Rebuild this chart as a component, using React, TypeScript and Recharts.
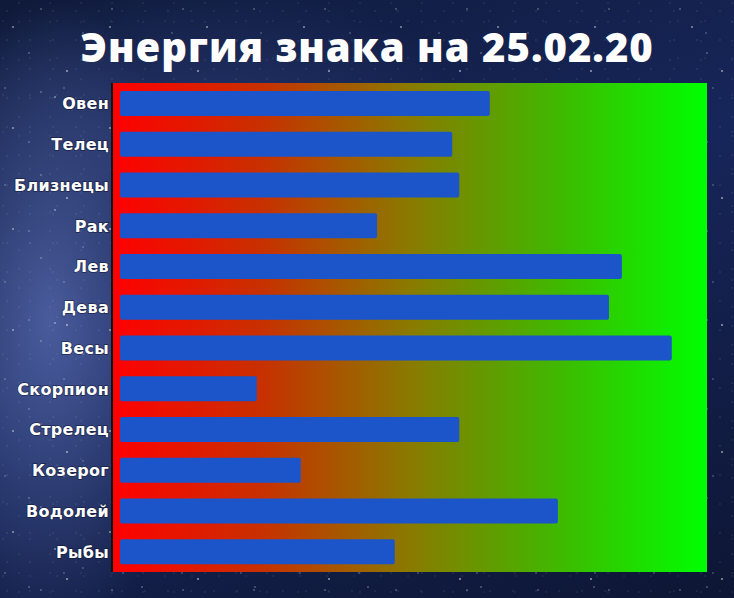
import React from 'react';
import { BarChart, Bar, XAxis, YAxis, CartesianGrid } from 'recharts';

const signs = ['Овен', 'Телец', 'Близнецы', 'Рак', 'Лев', 'Дева', 'Весы', 'Скорпион', 'Стрелец', 'Козерог', 'Водолей', 'Рыбы'];
const energy = [63.0, 56.6, 57.8, 43.8, 85.5, 83.3, 94.0, 23.3, 57.8, 30.8, 74.6, 46.8];
const titleText = 'Энергия знака на 25.02.20';

const data = signs.map((name, i) => ({ name, value: energy[i] }));

const starLayers = [
  'radial-gradient(1.2px 1.2px at 13px 27px, rgba(255,255,255,0.9), transparent)',
  'radial-gradient(1px 1px at 41px 9px, rgba(255,255,255,0.7), transparent)',
  'radial-gradient(1px 1px at 29px 53px, rgba(220,230,255,0.8), transparent)',
  'radial-gradient(1.5px 1.5px at 67px 71px, rgba(255,255,255,0.8), transparent)',
  'radial-gradient(1px 1px at 83px 33px, rgba(200,215,255,0.7), transparent)',
  'radial-gradient(1px 1px at 5px 88px, rgba(255,255,255,0.6), transparent)',
  'radial-gradient(1.3px 1.3px at 55px 97px, rgba(255,255,255,0.7), transparent)',
  'radial-gradient(0.8px 0.8px at 7px 11px, rgba(220,230,255,0.6), transparent)',
  'radial-gradient(0.8px 0.8px at 19px 3px, rgba(220,230,255,0.55), transparent)',
  'radial-gradient(0.8px 0.8px at 3px 21px, rgba(220,230,255,0.5), transparent)',
];

const bg = [
  ...starLayers,
  'radial-gradient(ellipse 150px 320px at 50px 320px, rgba(95,115,185,0.7), transparent)',
  'radial-gradient(ellipse 260px 140px at 200px 120px, rgba(60,80,150,0.4), transparent)',
  'linear-gradient(160deg, #0f1a3a 0%, #17265a 45%, #0d1634 100%)',
].join(', ');

const bgSizes = ['97px 101px', '71px 83px', '113px 89px', '131px 127px', '89px 107px', '59px 97px', '103px 113px', '23px 29px', '31px 19px', '27px 37px', 'auto', 'auto', 'auto'].join(', ');

const YTick = (props: any) => {
  const { x, y, payload } = props;
  return (
    <text
      x={x + 5}
      y={y}
      dy={6}
      textAnchor="end"
      fill="#ffffff"
      fontFamily="'DejaVu Sans', sans-serif"
      fontWeight="bold"
      fontSize={16}
      letterSpacing={0.3}
      style={{ paintOrder: 'stroke' }}
      stroke="rgba(10,15,40,0.6)"
      strokeWidth={1.5}
    >
      {payload.value}
    </text>
  );
};

export default function App() {
  return (
    <div
      style={{
        position: 'fixed',
        left: 0,
        top: 0,
        width: 734,
        height: 598,
        backgroundColor: '#111d40',
        backgroundImage: bg,
        backgroundSize: bgSizes,
        overflow: 'hidden',
      }}
    >
      <div
        style={{
          position: 'absolute',
          left: 0,
          top: 19,
          width: 734,
          textAlign: 'center',
          color: '#ffffff',
          fontFamily: "'Open Sans', sans-serif",
          fontWeight: 800,
          fontSize: 40,
          letterSpacing: 1,
          lineHeight: '56px',
        }}
      >
        {titleText}
      </div>
      <div style={{ position: 'absolute', left: 0, top: 0 }}>
        <BarChart
          width={734}
          height={598}
          data={data}
          layout="vertical"
          margin={{ top: 83, right: 27, bottom: 26, left: 0 }}
          barCategoryGap={0}
        >
          <defs>
            <linearGradient id="rg" x1="0" y1="0" x2="1" y2="0">
              <stop offset="0%" stopColor="#ff0000" />
              <stop offset="25%" stopColor="#c83000" />
              <stop offset="50%" stopColor="#8a7a00" />
              <stop offset="75%" stopColor="#40b800" />
              <stop offset="100%" stopColor="#00ff00" />
            </linearGradient>
          </defs>
          <CartesianGrid fill="url(#rg)" horizontal={false} vertical={false} stroke="none" />
          <XAxis
            type="number"
            domain={[0, 100]}
            padding={{ left: 8, right: 0 }}
            tick={false}
            tickLine={false}
            height={0}
            axisLine={{ stroke: '#111111', strokeWidth: 2 }}
          />
          <YAxis
            type="category"
            dataKey="name"
            width={112}
            tickLine={false}
            axisLine={{ stroke: '#111111', strokeWidth: 2 }}
            tick={<YTick />}
            interval={0}
          />
          <Bar dataKey="value" fill="#1c55c9" barSize={25} radius={2} isAnimationActive={false} />
        </BarChart>
      </div>
    </div>
  );
}
